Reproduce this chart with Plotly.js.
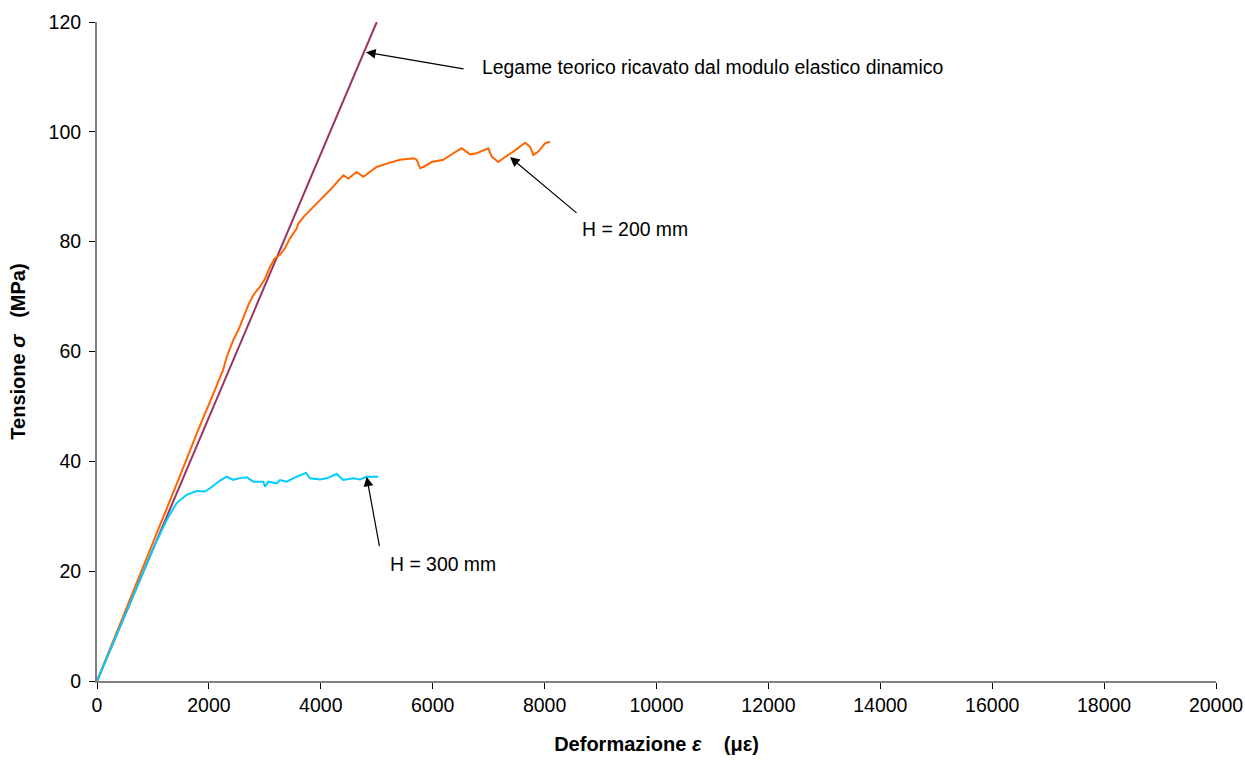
<!DOCTYPE html>
<html>
<head>
<meta charset="utf-8">
<script src="https://cdn.plot.ly/plotly-3.0.1.min.js"></script>
<style>html,body{margin:0;padding:0;background:#fff;}#chart{width:1245px;height:760px;}</style>
</head>
<body>
<div id="chart"></div>
<script>
// Theoretical line from dynamic elastic modulus
var theoStrain = [0, 5000];
var theoStress = [0, 120];

// H = 200 mm
var h200Strain = [0, 500, 1000, 1500, 1800, 2000, 2168, 2250, 2318, 2437, 2530, 2615, 2705, 2795, 2913, 3000, 3092, 3181, 3270, 3360, 3449, 3569, 3598, 3700, 3866, 4000, 4164, 4300, 4402, 4492, 4641, 4760, 4998, 5207, 5416, 5654, 5714, 5773, 5833, 5982, 6190, 6369, 6518, 6667, 6786, 6994, 7054, 7113, 7173, 7262, 7441, 7650, 7739, 7799, 7888, 8007, 8097];
var h200Stress = [0, 12.5, 25.3, 37.8, 45.5, 50.5, 54.8, 56.5, 59.0, 62.1, 64.0, 66.3, 68.5, 70.3, 71.8, 73.2, 75.4, 77.0, 77.6, 78.8, 80.6, 82.4, 83.3, 84.6, 86.4, 87.7, 89.4, 91.0, 92.1, 91.5, 92.7, 91.8, 93.6, 94.3, 94.9, 95.2, 94.9, 93.4, 93.6, 94.5, 94.9, 96.1, 97.0, 95.9, 96.1, 97.0, 95.5, 95.0, 94.5, 95.2, 96.4, 98.0, 97.3, 95.8, 96.4, 97.9, 98.2];

// H = 300 mm
var h300Strain = [0, 500, 1006, 1245, 1424, 1603, 1782, 1930, 2020, 2198, 2318, 2437, 2526, 2675, 2795, 2973, 3003, 3062, 3211, 3271, 3390, 3569, 3735, 3807, 3986, 4105, 4284, 4402, 4581, 4700, 4820, 5028];
var h300Stress = [0, 12.2, 24.2, 29.3, 32.4, 33.9, 34.6, 34.5, 35.1, 36.5, 37.2, 36.6, 36.9, 37.1, 36.3, 36.3, 35.4, 36.3, 36.0, 36.6, 36.3, 37.2, 37.9, 36.9, 36.7, 36.9, 37.7, 36.6, 36.9, 36.7, 37.2, 37.2];

var xTicks = [0, 2000, 4000, 6000, 8000, 10000, 12000, 14000, 16000, 18000, 20000];
var yTicks = [0, 20, 40, 60, 80, 100, 120];

var labels = {
  theo: "Legame teorico ricavato dal modulo elastico dinamico",
  h200: "H = 200 mm",
  h300: "H = 300 mm"
};

var font = "Liberation Sans, Arial, sans-serif";

var traces = [
  {x: theoStrain, y: theoStress, mode: "lines", line: {color: "#993366", width: 2}, hoverinfo: "skip"},
  {x: h200Strain, y: h200Stress, mode: "lines", line: {color: "#FF6600", width: 2}, hoverinfo: "skip"},
  {x: h300Strain, y: h300Stress, mode: "lines", line: {color: "#00CCFF", width: 2}, hoverinfo: "skip"}
];

var arrowCommon = {showarrow: true, arrowhead: 2, arrowsize: 1.6, arrowwidth: 1.2, arrowcolor: "#000", text: "", axref: "pixel", ayref: "pixel"};

var layout = {
  width: 1245, height: 760,
  margin: {l: 97, r: 29, t: 22, b: 79},
  paper_bgcolor: "#fff", plot_bgcolor: "#fff",
  showlegend: false,
  font: {family: font, size: 19, color: "#000"},
  xaxis: {
    range: [0, 20000], tickvals: xTicks, ticktext: xTicks.map(String),
    showgrid: false, zeroline: false, showline: true, linecolor: "#808080", linewidth: 2,
    ticks: "outside", ticklen: 6, tickcolor: "#000", tickwidth: 1,
    tickfont: {size: 19.5}, fixedrange: true,
    title: {text: "<b>Deformazione <i>ε</i>    (με)</b>", font: {size: 20}, standoff: 22}
  },
  yaxis: {
    range: [0, 120], tickvals: yTicks, ticktext: yTicks.map(String),
    showgrid: false, zeroline: false, showline: true, linecolor: "#808080", linewidth: 2,
    ticks: "outside", ticklen: 6, tickcolor: "#000", tickwidth: 1, ticklabelstandoff: 4,
    tickfont: {size: 19.5}, fixedrange: true,
    title: {text: "<b>Tensione <i>σ</i>   (MPa)</b>", font: {size: 20}, standoff: 18}
  },
  annotations: [
    Object.assign({x: 4808, y: 114.5, ax: 99, ay: 17}, arrowCommon),
    {x: 4808, y: 114.5, xref: "x", yref: "y", text: labels.theo, showarrow: true, arrowcolor: "rgba(0,0,0,0)", ax: 114, ay: 15, axref: "pixel", ayref: "pixel", xanchor: "left", yanchor: "middle", font: {size: 19.4}},
    Object.assign({x: 7382, y: 95.4, ax: 68, ay: 57}, arrowCommon),
    {x: 7382, y: 95.4, text: labels.h200, showarrow: true, arrowcolor: "rgba(0,0,0,0)", ax: 70, ay: 72, axref: "pixel", ayref: "pixel", xanchor: "left", yanchor: "middle", font: {size: 19.4}},
    Object.assign({x: 4820, y: 37.2, ax: 13, ay: 71}, arrowCommon),
    {x: 4820, y: 37.2, text: labels.h300, showarrow: true, arrowcolor: "rgba(0,0,0,0)", ax: 21, ay: 87, axref: "pixel", ayref: "pixel", xanchor: "left", yanchor: "middle", font: {size: 19.4}}
  ]
};

Plotly.newPlot("chart", traces, layout, {staticPlot: true, displayModeBar: false});
</script>
</body>
</html>
